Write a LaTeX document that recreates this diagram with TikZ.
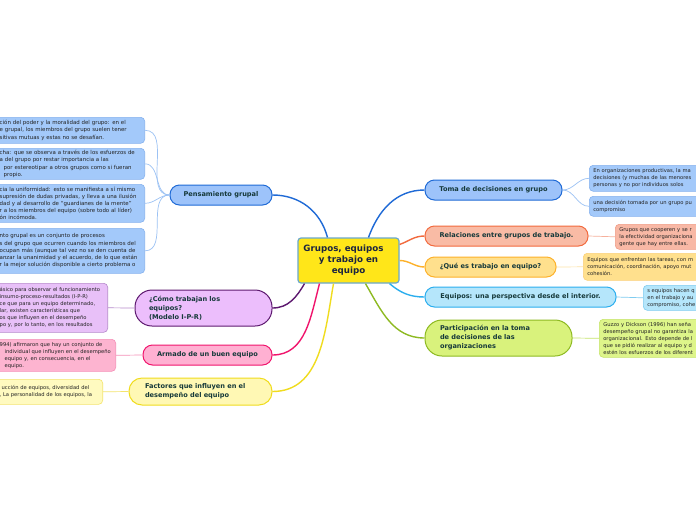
\documentclass[tikz,border=0pt]{standalone}
\usepackage{fontspec}
\setmainfont{DejaVu Sans}
\usepackage{tikz}
\usetikzlibrary{positioning}

\definecolor{ctrfill}{HTML}{FFE619}
\definecolor{ctrline}{HTML}{6BA8CC}
\definecolor{ctrtext}{HTML}{1B2440}
\definecolor{brtext}{HTML}{16393A}
\definecolor{leaftext}{HTML}{222222}
\definecolor{bluedk}{HTML}{1F6AD6}
\definecolor{bluelt}{HTML}{9DC3FA}
\definecolor{bluelf}{HTML}{A3C9FA}
\definecolor{bluemd}{HTML}{86B2EE}
\definecolor{bluetw}{HTML}{9CC2F4}
\definecolor{orgdk}{HTML}{F26A3E}
\definecolor{orglt}{HTML}{F9BBA5}
\definecolor{orglf}{HTML}{F8B8A5}
\definecolor{orgmd}{HTML}{F09C86}
\definecolor{orgtw}{HTML}{F6B09C}
\definecolor{ambdk}{HTML}{FDB12A}
\definecolor{amblt}{HTML}{FFE08D}
\definecolor{ambmd}{HTML}{FBD07A}
\definecolor{ambtw}{HTML}{FDE3A8}
\definecolor{cyandk}{HTML}{2BAEEE}
\definecolor{cyanlt}{HTML}{B5E6FB}
\definecolor{cyanmd}{HTML}{7FCCF0}
\definecolor{limedk}{HTML}{8EBA22}
\definecolor{limelt}{HTML}{D9F27C}
\definecolor{limelf}{HTML}{DEF58A}
\definecolor{limemd}{HTML}{C5E46A}
\definecolor{purdk}{HTML}{5E1A70}
\definecolor{purlt}{HTML}{ECBEFC}
\definecolor{purlf}{HTML}{E8C0F8}
\definecolor{purmd}{HTML}{B689CB}
\definecolor{pnkdk}{HTML}{F0146C}
\definecolor{pnklt}{HTML}{FFB0D2}
\definecolor{pnklf}{HTML}{FDB4D0}
\definecolor{pnkmd}{HTML}{F590B8}
\definecolor{ylwdk}{HTML}{F0DC1E}
\definecolor{ylwlt}{HTML}{FFF8B4}
\definecolor{ylwlf}{HTML}{FFFAC0}
\definecolor{ylwmd}{HTML}{F4E46E}

\begin{document}
\begin{tikzpicture}[x=1pt,y=-1pt,
	topic/.style={draw=ctrline,fill=ctrfill,line width=1.2pt,rounded corners=3pt,align=center,
		font=\bfseries\fontsize{8.7}{11}\selectfont,text=ctrtext,minimum width=101pt,minimum height=45pt,inner sep=2pt},
	branch/.style={rounded corners=9.5pt,line width=1pt,font=\bfseries\fontsize{6.6}{9}\selectfont,
		text=brtext,minimum height=20pt,inner sep=2pt},
	leaf/.style={rounded corners=4pt,line width=0.6pt,font=\fontsize{5.2}{7}\selectfont,text=leaftext,
		align=left,inner xsep=4pt,inner ysep=2pt},
	bigleaf/.style={leaf,font=\fontsize{5.45}{7.2}\selectfont},
	link/.style={line width=1.4pt},
	twig/.style={line width=0.7pt}]
	\fill[white] (0,0) rectangle (696,520);
	\useasboundingbox (0,0) rectangle (696,520);

	% central topic
	\node[topic] (grupos) at (348.5,260.5) {Grupos, equipos\hspace*{10pt}\\ y trabajo en\\ equipo};

	% right branches
	\node[branch,draw=bluedk,fill=bluelt,minimum width=137pt] (toma) at (493.5,190) {Toma de decisiones en grupo};
	\node[branch,draw=orgdk,fill=orglt,minimum width=163pt] (relac) at (506.5,236) {Relaciones entre grupos de trabajo.};
	\node[branch,draw=ambdk,fill=amblt,minimum width=131pt] (quees) at (490.5,267) {¿Qué es trabajo en equipo?};
	\node[branch,draw=cyandk,fill=cyanlt,minimum width=191pt] (interior) at (520.5,297) {Equipos: una perspectiva desde el interior.};
	\node[branch,draw=limedk,fill=limelt,minimum height=36pt,rounded corners=17pt,align=left,text width=117pt,inner xsep=15pt] (particip) at (498.5,338) {Participación en la toma\\ de decisiones de las\\ organizaciones};

	% left branches
	\node[branch,draw=bluedk,fill=bluelt,minimum width=102pt] (pensam) at (221,195) {Pensamiento grupal};
	\node[branch,draw=purdk,fill=purlt,minimum height=36pt,rounded corners=17pt,align=left,text width=109pt,inner xsep=14pt] (comotrab) at (203.5,308) {¿Cómo trabajan los\\ equipos?\\ (Modelo I-P-R)};
	\node[branch,draw=pnkdk,fill=pnklt,minimum width=129pt] (armado) at (207.5,355) {Armado de un buen equipo};
	\node[branch,draw=ylwdk,fill=ylwlt,minimum height=27pt,rounded corners=13pt,align=left,text width=111pt,inner xsep=16pt] (factores) at (200.5,391.5) {Factores que influyen en el\\ desempeño del equipo};

	% right leaves (cut by the page edge)
	\node[leaf,draw=bluemd,fill=bluelf,anchor=north west,minimum height=26pt,text width=130pt] (tomaA) at (589,165) {En organizaciones productivas, la ma\\ decisiones (y muchas de las menores\\ personas y no por individuos solos};
	\node[leaf,draw=bluemd,fill=bluelf,anchor=north west,minimum height=20pt,text width=130pt] (tomaB) at (589,196) {una decisión tomada por un grupo pu\\ compromiso};
	\node[leaf,draw=orgmd,fill=orglf,anchor=north west,minimum height=25pt,text width=130pt] (relacA) at (615,224) {Grupos que cooperen y se r\\ la efectividad organizaciona\\ gente que hay entre ellas.};
	\node[leaf,draw=ambmd,fill=amblt,anchor=north west,minimum height=27pt,text width=130pt] (queesA) at (583,253) {Equipos que enfrentan las tareas, con m\\ comunicación, coordinación, apoyo mut\\ cohesión.};
	\node[leaf,draw=cyanmd,fill=cyanlt,anchor=north west,minimum height=25pt,text width=130pt] (interiorA) at (643,285) {s equipos hacen q\\ en el trabajo y au\\ compromiso, cohe};
	\node[leaf,draw=limemd,fill=limelf,anchor=north west,minimum height=38pt,text width=130pt] (participA) at (599,319) {Guzzo y Dickson (1996) han seña\\ desempeño grupal no garantiza la\\ organizacional. Esto depende de l\\ que se pidió realizar al equipo y d\\ estén los esfuerzos de los diferent};

	% left leaves (cut by the page edge)
	\node[bigleaf,draw=bluemd,fill=bluelf,anchor=north east,minimum height=26pt,text width=141pt] (pensamA) at (145,117) {ción del poder y la moralidad del grupo: en el\\ e grupal, los miembros del grupo suelen tener\\ sitivas mutuas y estas no se desafían.};
	\node[bigleaf,draw=bluemd,fill=bluelf,anchor=north east,minimum height=31pt,text width=141pt] (pensamB) at (145,148) {cha: que se observa a través de los esfuerzos de\\ a del grupo por restar importancia a las\\ \hspace*{4pt}por estereotipar a otros grupos como si fueran\\ \hspace*{4pt}propio.};
	\node[bigleaf,draw=bluemd,fill=bluelf,anchor=north east,minimum height=38pt,text width=141pt] (pensamC) at (145,184) {cia la uniformidad: esto se manifiesta a sí mismo\\ supresión de dudas privadas, y lleva a una ilusión\\ dad y al desarrollo de ``guardianes de la mente''\\ r a los miembros del equipo (sobre todo al líder)\\ ón incómoda.};
	\node[bigleaf,draw=bluemd,fill=bluelf,anchor=north east,minimum height=45pt,text width=141pt] (pensamD) at (145,228) {nto grupal es un conjunto de procesos\\ s del grupo que ocurren cuando los miembros del\\ ocupan más (aunque tal vez no se den cuenta de\\ anzar la unanimidad y el acuerdo, de lo que están\\ r la mejor solución disponible a cierto problema o};
	\node[leaf,draw=purmd,fill=purlf,anchor=north east,minimum height=49pt,text width=104pt] (comotrabA) at (108,283) {ásico para observar el funcionamiento\\ insumo-proceso-resultados (I-P-R)\\ ce que para un equipo determinado,\\ lar, existen características que\\ os que influyen en el desempeño\\ po y, por lo tanto, en los resultados};
	\node[leaf,draw=pnkmd,fill=pnklf,anchor=north east,minimum height=32pt,text width=112pt] (armadoA) at (116,339) {994) afirmaron que hay un conjunto de\\ \hspace*{5pt}individual que influyen en el desempeño\\ \hspace*{5pt}equipo y, en consecuencia, en el\\ \hspace*{5pt}equipo.};
	\node[leaf,draw=ylwmd,fill=ylwlf,anchor=north east,minimum height=25pt,text width=99pt] (factoresA) at (103,379) {\hspace*{2pt}ucción de equipos, diversidad del\\ , La personalidad de los equipos, la};

	% links from the central topic
	\draw[link,bluedk] ([xshift=20]grupos.north) to[out=70,in=180] (toma.west);
	\draw[link,bluedk] ([xshift=-21]grupos.north) to[out=105,in=0] (pensam.east);
	\draw[link,orgdk] ([yshift=16]grupos.east) to[out=20,in=180] (relac.west);
	\draw[link,ambdk] (grupos.east) to[out=0,in=180] (quees.west);
	\draw[link,cyandk] ([xshift=41]grupos.south) to[out=-40,in=180] (interior.west);
	\draw[link,limedk] ([xshift=17]grupos.south) to[out=-60,in=180] (particip.west);
	\draw[link,purdk] ([xshift=-44]grupos.south) to[out=-120,in=0] (comotrab.east);
	\draw[link,pnkdk] ([xshift=-29]grupos.south) to[out=-105,in=0] (armado.east);
	\draw[link,ylwdk] ([xshift=-15]grupos.south) to[out=-100,in=0] (factores.east);

	% twigs to the leaves
	\foreach \leafnode in {pensamA,pensamB,pensamC,pensamD} { \draw[twig,bluetw] (pensam.west) to[out=180,in=0] (\leafnode.east); }
	\foreach \leafnode in {tomaA,tomaB} { \draw[twig,bluetw] (toma.east) to[out=0,in=180] (\leafnode.west); }
	\draw[twig,orgtw] (relac.east) -- (relacA.west);
	\draw[twig,ambtw] (quees.east) -- (queesA.west);
	\draw[twig,cyanmd] (interior.east) -- (interiorA.west);
	\draw[twig,limemd] (particip.east) -- (participA.west);
	\draw[twig,purmd] (comotrab.west) -- (comotrabA.east);
	\draw[twig,pnkmd] (armado.west) -- (armadoA.east);
	\draw[twig,ylwmd] (factores.west) -- (factoresA.east);
\end{tikzpicture}
\end{document}
